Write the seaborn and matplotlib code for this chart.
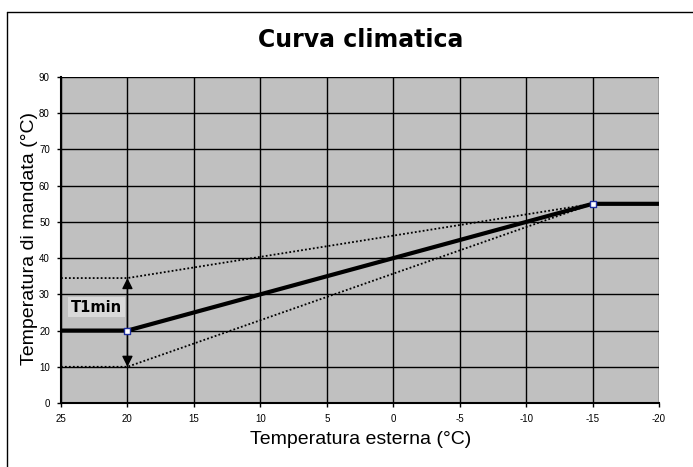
import matplotlib
matplotlib.use("Agg")
import matplotlib.pyplot as plt
import seaborn as sns
import pandas as pd
from matplotlib.lines import Line2D

# curve data (temperatura esterna -> temperatura di mandata)
t_ext = [25, 20, -15, -20]
t_mand = [20, 20, 55, 55]
t_ext_lim = [25, 20, -15]
t_upper = [34.5, 34.5, 55]
t_lower = [10, 10, 55]
pt_ext = [20, -15]
pt_mand = [20, 55]
x_ticks = [25, 20, 15, 10, 5, 0, -5, -10, -15, -20]
y_ticks = [0, 10, 20, 30, 40, 50, 60, 70, 80, 90]

sns.set_style("ticks", {"axes.facecolor": "#c0c0c0", "axes.edgecolor": "#000000",
                        "text.color": "black", "xtick.color": "black",
                        "ytick.color": "black", "axes.labelcolor": "black"})
plt.rcParams['font.family'] = ['Liberation Sans', 'DejaVu Sans']

fig = plt.figure(figsize=(6.93, 4.67), dpi=100)
ax = fig.add_axes([0.088, 0.137, 0.863, 0.698])

df_main = pd.DataFrame({"x": t_ext, "y": t_mand})
df_up = pd.DataFrame({"x": t_ext_lim, "y": t_upper})
df_lo = pd.DataFrame({"x": t_ext_lim, "y": t_lower})

sns.lineplot(data=df_up, x="x", y="y", sort=False, estimator=None, ax=ax,
             color="black", linestyle=(0, (1, 1.2)), linewidth=1.3)
sns.lineplot(data=df_lo, x="x", y="y", sort=False, estimator=None, ax=ax,
             color="black", linestyle=(0, (1, 1.2)), linewidth=1.3)
sns.lineplot(data=df_main, x="x", y="y", sort=False, estimator=None, ax=ax,
             color="black", linewidth=3)
sns.scatterplot(x=pt_ext, y=pt_mand, ax=ax, marker="s", s=22,
                facecolor="white", edgecolor="#1f2fa0", linewidth=1, zorder=5)

# double arrow for T1min
ax.annotate("", xy=(20, 10), xytext=(20, 34.5),
            arrowprops=dict(arrowstyle="<|-|>", color="black", lw=1,
                            mutation_scale=16, shrinkA=0, shrinkB=0))
ax.text(22.3, 26.5, "T1min", fontsize=10.5, fontweight="bold", ha="center", va="center",
        color="black", family="DejaVu Sans",
        bbox=dict(boxstyle="square,pad=0.2", facecolor="#d9d9d9", edgecolor="none"))

ax.set_xlim(25, -20)
ax.set_ylim(0, 90)
ax.set_xticks(x_ticks)
ax.set_yticks(y_ticks)
ax.set_xticklabels([str(v) for v in x_ticks], fontsize=7)
ax.set_yticklabels([str(v) for v in y_ticks], fontsize=7)
ax.grid(True, color="black", linewidth=1)
ax.tick_params(length=3, width=1, pad=5, colors="black")
for s in ["top", "right"]:
    ax.spines[s].set_visible(False)
ax.spines["left"].set_linewidth(1.5)
ax.spines["bottom"].set_linewidth(1.5)
ax.set_xlabel("")
ax.set_ylabel("")

fig.text(0.52, 0.914, "Curva climatica", ha="center", va="center", color="black",
         fontsize=17, fontweight="heavy", family="DejaVu Sans")
fig.text(0.52, 0.058, "Temperatura esterna (°C)", ha="center", va="center",
         fontsize=14, color="black")
fig.text(0.043, 0.49, "Temperatura di mandata (°C)", ha="center", va="center",
         fontsize=14, rotation=90, color="black")

# outer chart border
fig.add_artist(Line2D([7 / 693, 7 / 693], [0, 1 - 12 / 467], transform=fig.transFigure,
                      color="black", linewidth=1))
fig.add_artist(Line2D([7 / 693, 1], [1 - 12 / 467, 1 - 12 / 467], transform=fig.transFigure,
                      color="black", linewidth=1))

fig.savefig("out.png", dpi=100)
